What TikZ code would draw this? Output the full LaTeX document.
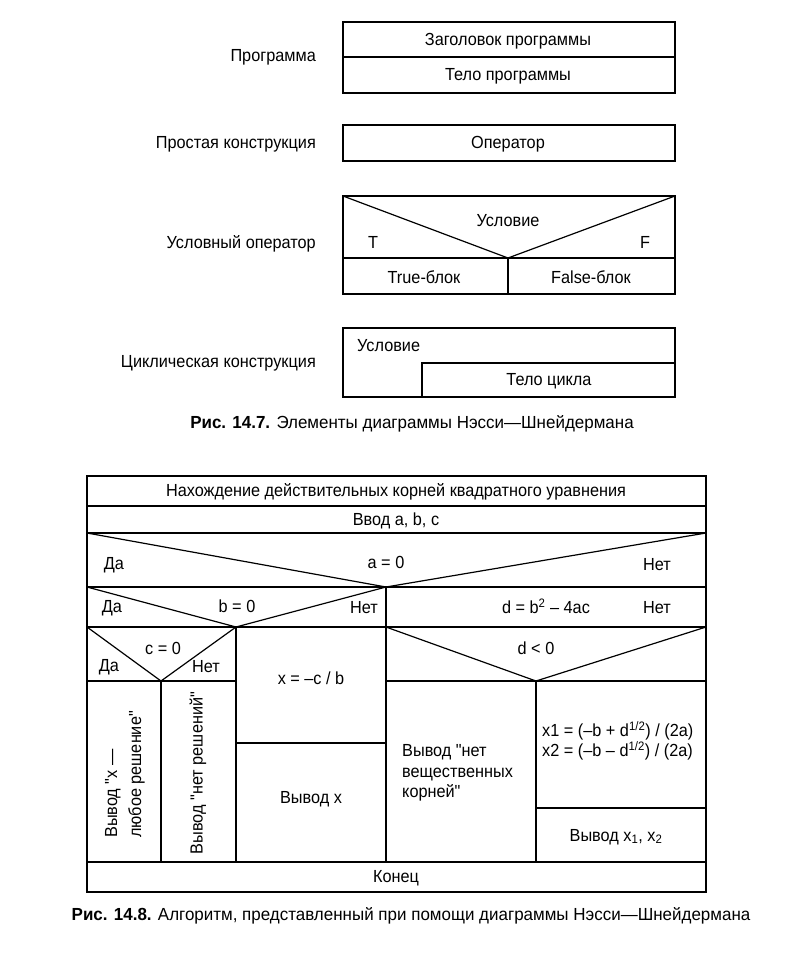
\documentclass[tikz,border=0pt]{standalone}
\usepackage{fontspec}
\setmainfont{Liberation Sans}[FakeStretch=0.93, Ligatures=TeXOff]
\newfontfamily\capfont{Liberation Sans}[FakeStretch=0.97, Ligatures=TeXOff]
\begin{document}
\begin{tikzpicture}[x=1pt,y=-1pt]
\tikzset{
  lbl/.style={font=\fontsize{17.5}{19}\selectfont, inner sep=0pt},
  figcap/.style={font=\capfont\fontsize{17.5}{19}\selectfont, inner sep=0pt},
  ln/.style={line width=1.2pt, line join=miter}
}
\useasboundingbox[fill=white] (0,0) rectangle (790,962);

% ---------- Fig 14.7 ----------
% Program
\coordinate (p1) at (343,22); \coordinate (p2) at (675,93);
\coordinate (pm1) at (343,57); \coordinate (pm2) at (675,57);
\draw[ln] (p1) rectangle (p2);
\draw[ln] (pm1) -- (pm2);
\node[lbl] (phead) at (508,41) {Заголовок программы};
\node[lbl] (pbody) at (508,76) {Тело программы};
\node[lbl,anchor=east] (lprog) at (316,57) {Программа};

% Simple
\coordinate (o1) at (343,125); \coordinate (o2) at (675,161);
\draw[ln] (o1) rectangle (o2);
\node[lbl] (oper) at (508,144) {Оператор};
\node[lbl,anchor=east] (lsimple) at (316,144) {Простая конструкция};

% Conditional
\coordinate (c1) at (343,196); \coordinate (c2) at (675,294);
\coordinate (cl) at (343,258); \coordinate (cr) at (675,258);
\coordinate (cv) at (508,258); \coordinate (cvb) at (508,294);
\coordinate (ctl) at (343,196); \coordinate (ctr) at (675,196);
\draw[ln] (c1) rectangle (c2);
\draw[ln] (cl) -- (cr);
\draw[ln] (ctl) -- (cv) -- (ctr);
\draw[ln] (cv) -- (cvb);
\node[lbl] (ccond) at (508,221) {Условие};
\node[lbl] (ct) at (373,242) {T};
\node[lbl] (cf) at (645,242) {F};
\node[lbl] (ctrue) at (424,277) {True-блок};
\node[lbl] (cfalse) at (591,277) {False-блок};
\node[lbl,anchor=east] (lcond) at (316,244) {Условный оператор};

% Loop
\coordinate (l1) at (343,328); \coordinate (l2) at (675,397);
\coordinate (li1) at (422,397); \coordinate (li2) at (422,363); \coordinate (li3) at (675,363);
\draw[ln] (l1) rectangle (l2);
\draw[ln] (li1) -- (li2) -- (li3);
\node[lbl,anchor=west] (lcondt) at (357,346) {Условие};
\node[lbl] (lbody) at (549,381) {Тело цикла};
\node[lbl,anchor=east] (lloop) at (316,363) {Циклическая конструкция};

\node[figcap] (cap1) at (412,424) {\textbf{Рис. 14.7.} Элементы диаграммы Нэсси—Шнейдермана};

% ---------- Fig 14.8 ----------
\coordinate (A) at (87,476); \coordinate (B) at (706,892);
\draw[ln] (A) rectangle (B);
\foreach \yy/\nm in {506/r1,533/r2,587/r3,627/r4,862/r6}{
  \coordinate (\nm l) at (87,\yy); \coordinate (\nm r) at (706,\yy);
  \draw[ln] (\nm l) -- (\nm r);
}
% a = 0 triangle
\coordinate (va) at (386,587);
\draw[ln] (r2l) -- (va) -- (r2r);
% main vertical split
\coordinate (vmb) at (386,862);
\draw[ln] (va) -- (vmb);
% b = 0 triangle
\coordinate (vb) at (236,627);
\draw[ln] (r3l) -- (vb) -- (va);
% row 4 bottom line split parts
\coordinate (r5l) at (87,681); \coordinate (r5m) at (236,681);
\coordinate (r5n) at (386,681); \coordinate (r5r) at (706,681);
\draw[ln] (r5l) -- (r5m);
\draw[ln] (r5n) -- (r5r);
% c = 0 triangle
\coordinate (vc) at (161,681);
\draw[ln] (r4l) -- (vc) -- (vb);
\coordinate (vcb) at (161,862);
\draw[ln] (vc) -- (vcb);
\coordinate (vbb) at (236,862);
\draw[ln] (vb) -- (vbb);
% x = -c/b divider
\coordinate (xd1) at (236,743); \coordinate (xd2) at (386,743);
\draw[ln] (xd1) -- (xd2);
% d < 0 triangle
\coordinate (r4m) at (386,627);
\coordinate (vd) at (536,681);
\draw[ln] (r4m) -- (vd) -- (r4r);
\coordinate (vdb) at (536,862);
\draw[ln] (vd) -- (vdb);
\coordinate (xx1) at (536,808); \coordinate (xx2) at (706,808);
\draw[ln] (xx1) -- (xx2);

% texts
\node[lbl] (title) at (396,492) {Нахождение действительных корней квадратного уравнения};
\node[lbl] (input) at (396,521) {Ввод a, b, c};
\node[lbl] (da1) at (114,565) {Да};
\node[lbl] (aeq) at (386,562) {a = 0};
\node[lbl] (net1) at (657,565) {Нет};
\node[lbl] (da2) at (112,608) {Да};
\node[lbl] (beq) at (237,606) {b = 0};
\node[lbl] (net2) at (364,608) {Нет};
\node[lbl] (deq) at (546,606) {d = b\textsuperscript{2} – 4ac};
\node[lbl] (net3) at (657,608) {Нет};
\node[lbl] (ceq) at (163,648) {c = 0};
\node[lbl] (da3) at (109,667) {Да};
\node[lbl] (net4) at (206,667) {Нет};
\node[lbl] (xcb) at (311,678) {x = –c / b};
\node[lbl] (outx) at (311,799) {Вывод x};
\node[lbl] (dlt) at (536,648) {d < 0};
\node[lbl,font=\fontsize{17.5}{20.5}\selectfont,align=left,anchor=west] (noreal) at (402,773) {Вывод "нет\\вещественных\\корней"};
\node[lbl,font=\fontsize{17.5}{16.5}\selectfont,align=left,anchor=west] (roots) at (542,741) {x1 = (–b + d\textsuperscript{1/2}) / (2a)\\x2 = (–b – d\textsuperscript{1/2}) / (2a)};
\node[lbl] (outx12) at (616,837) {Вывод x\textsubscript{1}, x\textsubscript{2}};
\node[lbl,font=\fontsize{17.5}{24}\selectfont,align=left,rotate=90,anchor=west] (anyx) at (125,838) {Вывод "x —\\любое решение"};
\node[lbl,rotate=90] (nosol) at (198,773) {Вывод "нет решений"};
\node[lbl] (endn) at (396,878) {Конец};

\node[figcap] (cap2) at (411,916) {\textbf{Рис. 14.8.} Алгоритм, представленный при помощи диаграммы Нэсси—Шнейдермана};
\end{tikzpicture}
\end{document}
